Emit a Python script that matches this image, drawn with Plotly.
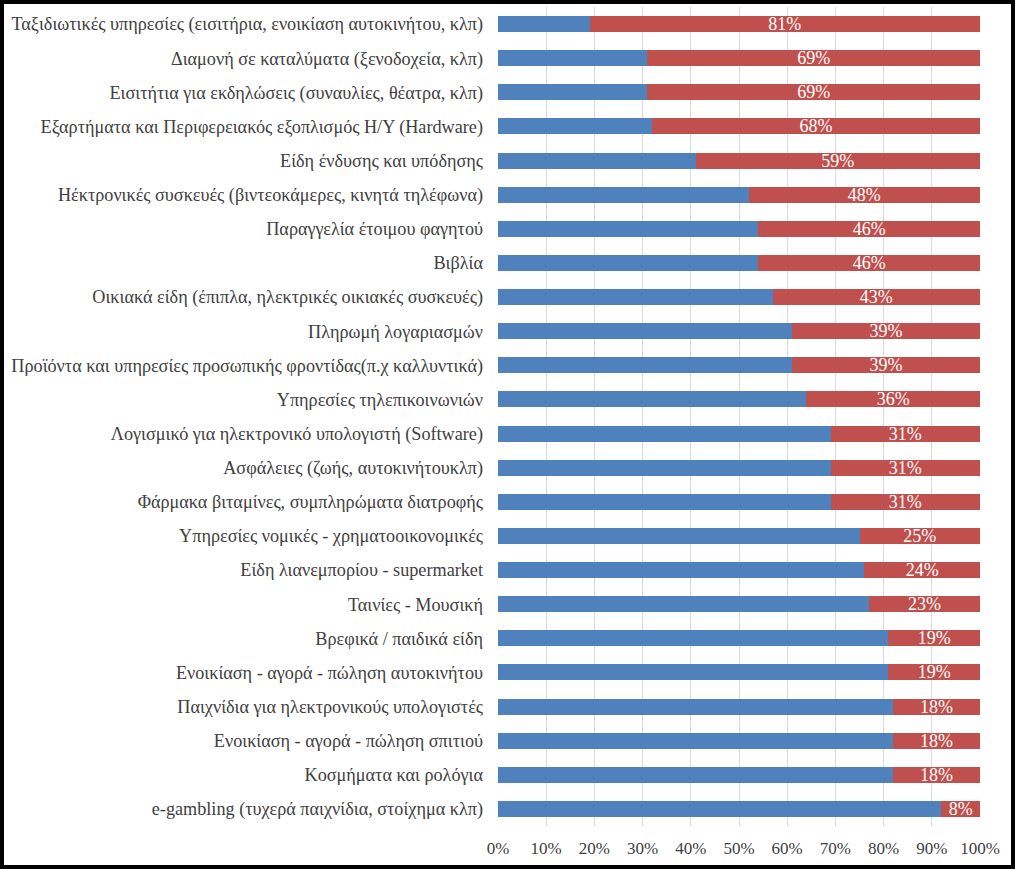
import plotly.graph_objects as go

categories = [
    "Ταξιδιωτικές υπηρεσίες (εισιτήρια, ενοικίαση αυτοκινήτου, κλπ)",
    "Διαμονή σε καταλύματα (ξενοδοχεία, κλπ)",
    "Εισιτήτια για εκδηλώσεις (συναυλίες, θέατρα, κλπ)",
    "Εξαρτήματα και Περιφερειακός εξοπλισμός Η/Υ (Hardware)",
    "Είδη ένδυσης και υπόδησης",
    "Ηέκτρονικές συσκευές (βιντεοκάμερες, κινητά τηλέφωνα)",
    "Παραγγελία έτοιμου φαγητού",
    "Βιβλία",
    "Οικιακά είδη (έπιπλα, ηλεκτρικές οικιακές συσκευές)",
    "Πληρωμή λογαριασμών",
    "Προϊόντα και υπηρεσίες προσωπικής φροντίδας(π.χ καλλυντικά)",
    "Υπηρεσίες τηλεπικοινωνιών",
    "Λογισμικό για ηλεκτρονικό υπολογιστή (Software)",
    "Ασφάλειες (ζωής, αυτοκινήτουκλπ)",
    "Φάρμακα βιταμίνες, συμπληρώματα διατροφής",
    "Υπηρεσίες νομικές - χρηματοοικονομικές",
    "Είδη λιανεμπορίου - supermarket",
    "Ταινίες - Μουσική",
    "Βρεφικά / παιδικά είδη",
    "Ενοικίαση - αγορά - πώληση αυτοκινήτου",
    "Παιχνίδια για ηλεκτρονικούς υπολογιστές",
    "Ενοικίαση - αγορά - πώληση σπιτιού",
    "Κοσμήματα και ρολόγια",
    "e-gambling (τυχερά παιχνίδια, στοίχημα κλπ)",
]

blue_values = [19, 31, 31, 32, 41, 52, 54, 54, 57, 61, 61, 64, 69, 69, 69, 75, 76, 77, 81, 81, 82, 82, 82, 92]
red_values = [81, 69, 69, 68, 59, 48, 46, 46, 43, 39, 39, 36, 31, 31, 31, 25, 24, 23, 19, 19, 18, 18, 18, 8]

tick_vals = [0, 10, 20, 30, 40, 50, 60, 70, 80, 90, 100]
tick_text = ["0%", "10%", "20%", "30%", "40%", "50%", "60%", "70%", "80%", "90%", "100%"]

FONT = "Liberation Serif"

fig = go.Figure()
fig.add_trace(go.Bar(
    y=categories, x=blue_values, orientation="h",
    marker=dict(color="#4F81BD", line=dict(width=0)),
    hoverinfo="x+y", showlegend=False,
))
fig.add_trace(go.Bar(
    y=categories, x=red_values, orientation="h",
    marker=dict(color="#C0504D", line=dict(width=0)),
    text=[f"{v}%" for v in red_values],
    textposition="inside", insidetextanchor="middle",
    textfont=dict(family=FONT, size=18, color="white"),
    constraintext="none",
    showlegend=False,
))

W, H = 1015, 869
ml, mr, mt, mb = 498, 35, 7, 43
pw, ph = W - ml - mr, H - mt - mb

fig.update_layout(
    width=W, height=H,
    barmode="stack", bargap=0.53,
    margin=dict(l=ml, r=mr, t=mt, b=mb, pad=0),
    paper_bgcolor="white", plot_bgcolor="white",
    font=dict(family=FONT, size=17, color="#404040"),
    uniformtext=dict(mode=False),
    xaxis=dict(
        range=[0, 100], tickvals=tick_vals, ticktext=tick_text,
        showgrid=True, gridcolor="#D9D9D9", gridwidth=1,
        zeroline=False, showline=False, ticks="",
        ticklabelstandoff=10,
        tickfont=dict(family=FONT, size=17, color="#404040"),
        fixedrange=True,
    ),
    yaxis=dict(
        categoryorder="array", categoryarray=categories,
        autorange="reversed",
        showgrid=False, zeroline=False, showline=False, ticks="",
        ticklabelstandoff=14,
        tickfont=dict(family=FONT, size=18.2, color="#404040"),
        fixedrange=True,
    ),
    shapes=[dict(
        type="rect", xref="paper", yref="paper",
        x0=(2 - ml) / pw, x1=(W - 2 - ml) / pw,
        y0=-(mb - 2) / ph, y1=1 + (mt - 2) / ph,
        line=dict(color="black", width=4), fillcolor="rgba(0,0,0,0)",
        layer="above",
    )],
)

fig.write_html(
    "out.html",
    config={"displayModeBar": False},
    post_script="document.body.style.margin='0';document.body.style.overflow='hidden';",
)
